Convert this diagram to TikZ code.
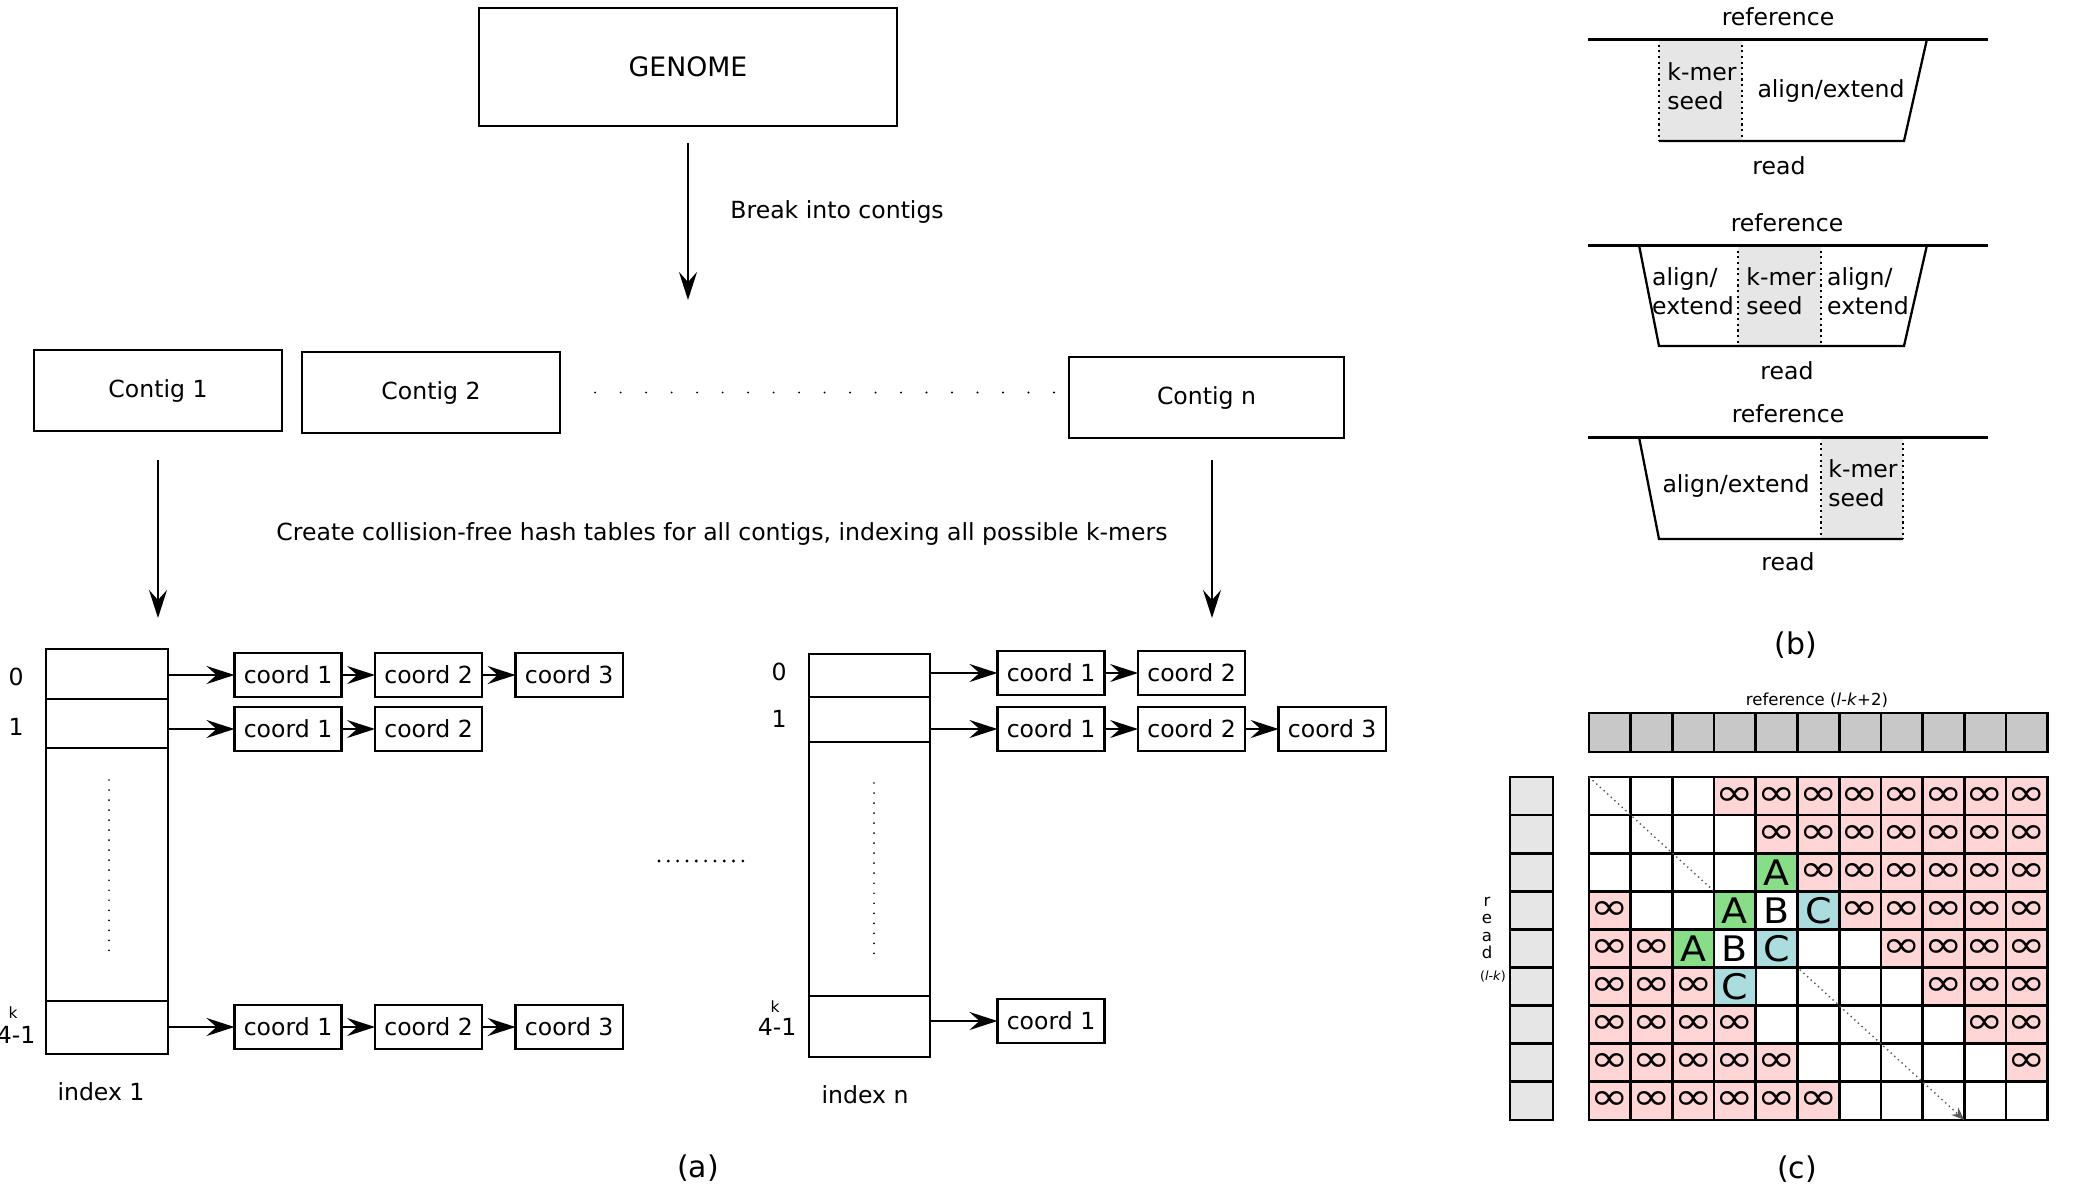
\documentclass[tikz,border=0pt]{standalone}
\usepackage{fontspec}
\setmainfont{DejaVu Sans}
\usetikzlibrary{arrows.meta,positioning}

\definecolor{infpink}{RGB}{255,213,213}
\definecolor{seedgreen}{RGB}{135,222,135}
\definecolor{seedcyan}{RGB}{172,221,222}
\definecolor{seedgray}{RGB}{230,230,230}
\definecolor{refgray}{RGB}{200,200,200}

\begin{document}
\begin{tikzpicture}[
    x=0.01cm, y=-0.01cm,
    >={Stealth[length=2.8mm, width=1.8mm, inset=1mm]},
    font=\fontsize{6.7}{8.1}\selectfont,
    node distance=0.335cm,
    box/.style={draw, line width=0.65pt, inner sep=0pt, outer sep=0pt},
    coordbox/.style={box, minimum width=1.07cm, minimum height=0.44cm},
    slot/.style={box, anchor=north},
    link/.style={->, line width=0.6pt},
    vdots/.style={line width=0.55pt, line cap=round, dash pattern=on 0pt off 2.85pt},
    seedline/.style={line width=0.6pt, densely dotted},
    refline/.style={line width=0.85pt},
    cell/.style={draw, line width=0.75pt, inner sep=0pt, outer sep=0pt,
        minimum width=0.417cm, minimum height=0.381cm,
        font=\fontsize{10}{10}\selectfont},
    panel/.style={font=\fontsize{8.5}{10}\selectfont}
]
    \useasboundingbox (0,0) rectangle (2074,1187);

    % Geometry of grid (c), in px of the original figure
    \def\gx{1589}
    \def\gy{777}
    \def\cw{41.7}
    \def\ch{38.1}
    \def\inf{\scalebox{1.25}[1]{\fontsize{10.5}{10.5}\selectfont ∞}}

    % ---------------- (a) genome and contigs ----------------
    \node[box, minimum width=4.18cm, minimum height=1.18cm,
          font=\fontsize{7.6}{9}\selectfont] (genome) at (688,67) {GENOME};
    \coordinate (split) at (688,300);
    \draw[link, shorten <=0.17cm] (genome) -- (split);
    \node[anchor=west] (breaklbl) at (718,212) {Break into contigs};

    \node[box, minimum width=2.48cm, minimum height=0.81cm] (contig1) at (158,390.5) {Contig 1};
    \node[box, minimum width=2.58cm, minimum height=0.81cm] (contig2) at (431,392.5) {Contig 2};
    \node[box, minimum width=2.75cm, minimum height=0.81cm] (contign) at (1206.5,397.5) {Contig n};
    \draw[line width=0.6pt, line cap=round, dash pattern=on 0pt off 7.25pt,
          shorten <=0.35cm, shorten >=0.12cm] (contig2.east) -- (contig2.east -| contign.west);

    \node (hashlbl) at (722,534) {Create collision-free hash tables for all contigs, indexing all possible k-mers};

    % index 1
    \node[slot, minimum width=1.22cm, minimum height=0.50cm] (t1r0) at (107,649) {};
    \node[slot, minimum width=1.22cm, minimum height=0.49cm] (t1r1) at (t1r0.south) {};
    \node[slot, minimum width=1.22cm, minimum height=2.53cm] (t1mid) at (t1r1.south) {};
    \node[slot, minimum width=1.22cm, minimum height=0.53cm] (t1rk) at (t1mid.south) {};
    \draw[vdots] (109,780) -- (109,958);
    \node (t1l0) at (16,677) {0};
    \node (t1l1) at (16,727) {1};
    \node[font=\fontsize{4.4}{5}\selectfont] (t1k) at (13,1013) {k};
    \node[anchor=east, inner sep=0pt] (t1lk) at (36,1035) {4-1};
    \node (t1name) at (101,1092) {index 1};

    \node[coordbox] (t1a1) at (288,675) {coord 1};
    \node[coordbox, right=of t1a1] (t1a2) {coord 2};
    \node[coordbox, right=of t1a2] (t1a3) {coord 3};
    \node[coordbox] (t1b1) at (288,729) {coord 1};
    \node[coordbox, right=of t1b1] (t1b2) {coord 2};
    \node[coordbox] (t1c1) at (288,1027) {coord 1};
    \node[coordbox, right=of t1c1] (t1c2) {coord 2};
    \node[coordbox, right=of t1c2] (t1c3) {coord 3};

    \draw[link] (t1r0.east |- t1a1.west) -- (t1a1.west);
    \draw[link] (t1a1) -- (t1a2);
    \draw[link] (t1a2) -- (t1a3);
    \draw[link] (t1r1.east |- t1b1.west) -- (t1b1.west);
    \draw[link] (t1b1) -- (t1b2);
    \draw[link] (t1rk.east |- t1c1.west) -- (t1c1.west);
    \draw[link] (t1c1) -- (t1c2);
    \draw[link] (t1c2) -- (t1c3);

    % index n
    \node[slot, minimum width=1.21cm, minimum height=0.43cm] (tnr0) at (869.5,654) {};
    \node[slot, minimum width=1.21cm, minimum height=0.45cm] (tnr1) at (tnr0.south) {};
    \node[slot, minimum width=1.21cm, minimum height=2.54cm] (tnmid) at (tnr1.south) {};
    \node[slot, minimum width=1.21cm, minimum height=0.61cm] (tnrk) at (tnmid.south) {};
    \draw[vdots] (874,783) -- (874,962);
    \node (tnl0) at (779,672) {0};
    \node (tnl1) at (779,719) {1};
    \node[font=\fontsize{4.4}{5}\selectfont] (tnk) at (775,1007) {k};
    \node[anchor=east, inner sep=0pt] (tnlk) at (797,1027) {4-1};
    \node (tnname) at (865,1095) {index n};

    \node[coordbox] (tna1) at (1051,673) {coord 1};
    \node[coordbox, right=of tna1] (tna2) {coord 2};
    \node[coordbox] (tnb1) at (1051,729) {coord 1};
    \node[coordbox, right=of tnb1] (tnb2) {coord 2};
    \node[coordbox, right=of tnb2] (tnb3) {coord 3};
    \node[coordbox] (tnc1) at (1051,1021) {coord 1};

    \draw[link] (tnr0.east |- tna1.west) -- (tna1.west);
    \draw[link] (tna1) -- (tna2);
    \draw[link] (tnr1.east |- tnb1.west) -- (tnb1.west);
    \draw[link] (tnb1) -- (tnb2);
    \draw[link] (tnb2) -- (tnb3);
    \draw[link] (tnrk.east |- tnc1.west) -- (tnc1.west);

    % contigs down to the tables
    \draw[link, shorten <=0.29cm, shorten >=0.31cm] (contig1.south) -- (contig1.south |- t1r0.north);
    \draw[link, shorten <=0.22cm, shorten >=0.36cm] ([xshift=0.055cm]contign.south) -- ([xshift=0.055cm]contign.south |- tnr0.north);

    % dots between the two indexes
    \draw[line width=0.9pt, line cap=round, dash pattern=on 0pt off 2.65pt] (659,861) -- (745,861);

    \node[panel] (pa) at (698,1168) {(a)};

    % ---------------- (b) seed and extend ----------------
    % seed on the left
    \fill[seedgray] (1659,39) rectangle (1742,141);
    \draw[refline] (1588,39) -- (1988,39);
    \draw[line width=0.65pt] (1927,39) -- (1904,141) -- (1659,141);
    \draw[seedline] (1659,39) -- (1659,141) (1742,39) -- (1742,141);
    \node (b1ref) at (1778,17) {reference};
    \node (b1read) at (1779,166) {read};
    \node[align=left] (b1seed) at (1702,86) {k-mer\\seed};
    \node (b1ext) at (1831,91) {align/extend};

    % seed in the middle
    \fill[seedgray] (1738,245) rectangle (1821,346);
    \draw[refline] (1588,245) -- (1988,245);
    \draw[line width=0.65pt] (1639,245) -- (1659,346) -- (1904,346) -- (1927,245);
    \draw[seedline] (1738,245) -- (1738,346) (1821,245) -- (1821,346);
    \node (b2ref) at (1787,223) {reference};
    \node (b2read) at (1787,371) {read};
    \node[align=left] (b2left) at (1693,291) {align/\\extend};
    \node[align=left] (b2seed) at (1781,291) {k-mer\\seed};
    \node[align=left] (b2right) at (1868,291) {align/\\extend};

    % seed on the right
    \fill[seedgray] (1821,437) rectangle (1903,539);
    \draw[refline] (1588,437) -- (1988,437);
    \draw[line width=0.65pt] (1639,437) -- (1659,539) -- (1903,539);
    \draw[seedline] (1821,437) -- (1821,539) (1903,437) -- (1903,539);
    \node (b3ref) at (1788,414) {reference};
    \node (b3read) at (1788,562) {read};
    \node (b3ext) at (1736,486) {align/extend};
    \node[align=left] (b3seed) at (1863,483) {k-mer\\seed};

    \node[panel] (pb) at (1796,645) {(b)};

    % ---------------- (c) banded matrix ----------------
    \node[font=\fontsize{4.7}{5}\selectfont] (reflbl) at (1817,700) {reference (\textit{l}-\textit{k}+2)};
    \foreach \c in {0,...,10}
        \node[cell, fill=refgray, minimum height=0.39cm] (ref\c) at ({\gx+\cw*(\c+0.5)},732.5) {};

    \node[align=center, inner sep=0pt, font=\fontsize{4.7}{4.85}\selectfont] (readlbl) at (1487,928) {r\\e\\a\\d};
    \node[inner sep=0pt, font=\fontsize{3.6}{4}\selectfont] (readlk) at (1493,977) {(\textit{l}-\textit{k})};
    \foreach \r in {0,...,8}
        \node[cell, fill=seedgray, minimum width=0.43cm] (rd\r) at (1531.5,{\gy+\ch*(\r+0.5)}) {};

    \foreach \r in {0,...,8}{
        \foreach \c in {0,...,10}{
            \pgfmathtruncatemacro{\off}{\c-\r}
            \ifnum\off>2 \def\cellfill{infpink}\def\celltext{\inf}\else
                \ifnum\off<-2 \def\cellfill{infpink}\def\celltext{\inf}\else
                    \def\cellfill{white}\def\celltext{}\fi\fi
            \node[cell, fill=\cellfill] (g-\r-\c) at ({\gx+\cw*(\c+0.5)},{\gy+\ch*(\r+0.5)}) {\celltext};
        }
    }

    \draw[black!65, line width=0.4pt, densely dotted, -{Stealth[length=1.3mm, width=1mm]}]
        (g-0-0.north west) -- (g-8-8.south east);

    % seed hits
    \foreach \r/\c/\t/\f in {2/4/A/seedgreen, 3/3/A/seedgreen, 4/2/A/seedgreen,
                             3/4/B/white, 4/3/B/white,
                             3/5/C/seedcyan, 4/4/C/seedcyan, 5/3/C/seedcyan}
        \node[cell, fill=\f] (s-\r-\c) at (g-\r-\c) {\scalebox{1.08}[1]{\t}};

    \node[panel] (pc) at (1797,1169) {(c)};

\end{tikzpicture}
\end{document}
